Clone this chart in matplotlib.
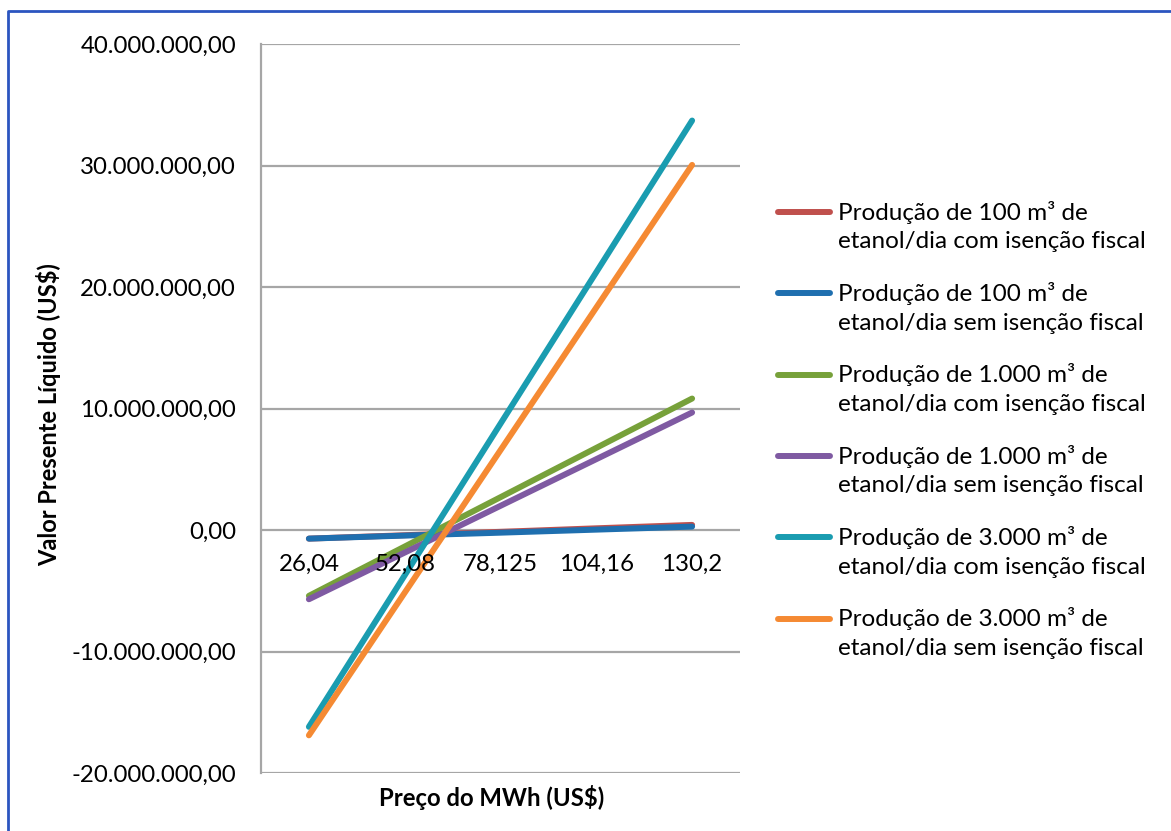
import matplotlib
matplotlib.use("Agg")
import matplotlib.pyplot as plt
from matplotlib.lines import Line2D
from matplotlib.ticker import FuncFormatter

# Preço do MWh (US$) - categorias do eixo x
precos = ["26,04", "52,08", "78,125", "104,16", "130,2"]

# Valor Presente Líquido (US$) por cenário
vpl_100_com = [-0.71e6, -0.43e6, -0.15e6, 0.14e6, 0.42e6]
vpl_100_sem = [-0.71e6, -0.46e6, -0.22e6, 0.03e6, 0.28e6]
vpl_1000_com = [-5.42e6, -1.36e6, 2.70e6, 6.76e6, 10.82e6]
vpl_1000_sem = [-5.70e6, -1.86e6, 1.99e6, 5.83e6, 9.67e6]
vpl_3000_com = [-16.20e6, -3.73e6, 8.75e6, 21.22e6, 33.70e6]
vpl_3000_sem = [-16.90e6, -5.16e6, 6.57e6, 18.31e6, 30.05e6]

nomes = [
    "Produção de 100 m³ de\netanol/dia com isenção fiscal",
    "Produção de 100 m³ de\netanol/dia sem isenção fiscal",
    "Produção de 1.000 m³ de\netanol/dia com isenção fiscal",
    "Produção de 1.000 m³ de\netanol/dia sem isenção fiscal",
    "Produção de 3.000 m³ de\netanol/dia com isenção fiscal",
    "Produção de 3.000 m³ de\netanol/dia sem isenção fiscal",
]
series = [vpl_100_com, vpl_100_sem, vpl_1000_com, vpl_1000_sem, vpl_3000_com, vpl_3000_sem]
cores = ["#C0504D", "#1F6FAF", "#77A13A", "#7F5AA2", "#1A9CB0", "#F58A33"]

plt.rcParams["font.family"] = ["Lato", "DejaVu Sans"]

W, H = 1171, 831
fig = plt.figure(figsize=(W / 100, H / 100), dpi=100)
ax = fig.add_axes([261 / W, 1 - 773 / H, (740 - 261) / W, (773 - 44) / H])

x = list(range(len(precos)))
for vals, cor in zip(series, cores):
    ax.plot(x, vals, color=cor, lw=4.3, solid_capstyle="round", zorder=3)

ax.set_xlim(-0.5, len(precos) - 0.5)
ax.set_ylim(-20e6, 40e6)
ax.set_yticks([-20e6, -10e6, 0, 10e6, 20e6, 30e6, 40e6])


def fmt_br(v, pos):
    s = f"{abs(v):,.2f}".replace(",", "X").replace(".", ",").replace("X", ".")
    return ("-" if v < 0 else "") + s


ax.yaxis.set_major_formatter(FuncFormatter(fmt_br))
ax.tick_params(axis="y", length=0, pad=18, labelsize=17.3)
ax.grid(axis="y", color="#A6A6A6", lw=1.6, zorder=0)
ax.set_xticks([])
for side in ["top", "right", "bottom"]:
    ax.spines[side].set_visible(False)
ax.spines["left"].set_color("#A6A6A6")
ax.spines["left"].set_linewidth(1.6)

# Rótulos de categoria junto ao eixo em y = 0
for i, p in enumerate(precos):
    ax.annotate(p, xy=(i, 0), xytext=(0, -25), textcoords="offset points",
                ha="center", va="center", fontsize=17.3, zorder=4)

fig.text(49 / W, 1 - 415 / H, "Valor Presente Líquido (US$)", rotation=90,
         ha="center", va="center", fontsize=17, fontweight="bold")
fig.text(492 / W, 1 - 797 / H, "Preço do MWh (US$)", ha="center", va="center",
         fontsize=17.2, fontweight="bold")

# Legenda
y0 = 212
for k, (nome, cor) in enumerate(zip(nomes, cores)):
    yy = y0 + k * 81.3
    fig.add_artist(Line2D([778 / W, 830 / W], [1 - yy / H, 1 - yy / H], color=cor,
                          lw=4.3, solid_capstyle="round", transform=fig.transFigure))
    fig.text(838 / W, 1 - (yy + 14.5) / H, nome, ha="left", va="center",
             fontsize=17.5, linespacing=1.45)

# Moldura
fig.add_artist(Line2D([8 / W, 8 / W, 1.0], [0.0, 1 - 11 / H, 1 - 11 / H],
                      color="#2B55C0", lw=2, transform=fig.transFigure))

fig.savefig("out.png", dpi=100)
